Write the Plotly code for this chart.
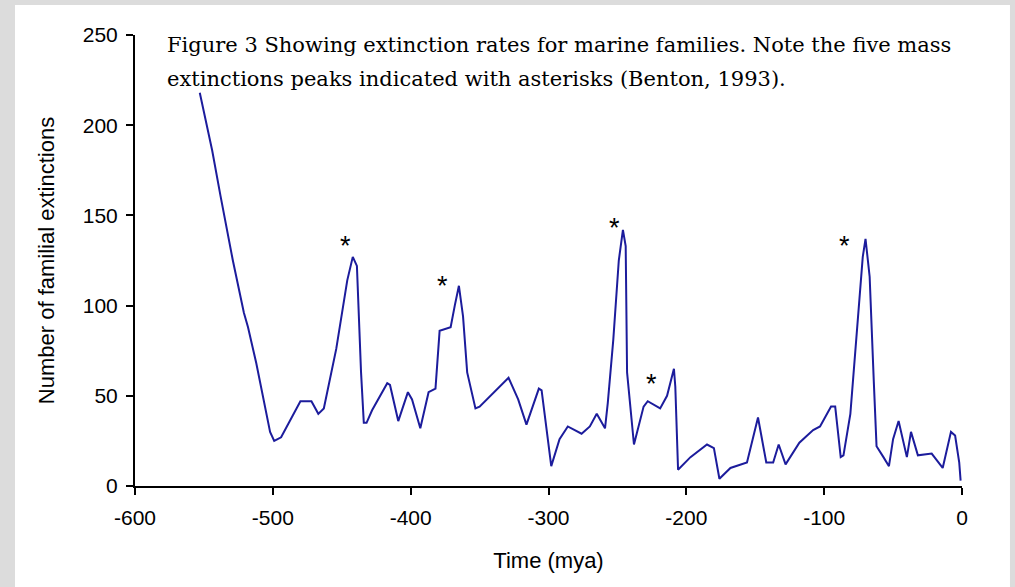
import plotly.graph_objects as go

# Data (time in mya, number of familial extinctions)
time_mya = [-553, -544, -538, -529, -521, -518, -512, -507, -502, -499, -494,
            -480, -472, -467, -463, -454, -446, -442, -439, -436, -434, -432,
            -428, -417, -415, -409, -402, -399, -393, -387, -382, -379, -371,
            -368, -365, -362, -359, -353, -350, -329, -322, -316, -307, -305,
            -298, -292, -286, -276, -270, -265, -259, -257, -253, -249, -246,
            -244, -243, -238, -231, -228, -219, -214, -209, -208, -206, -197,
            -185, -180, -176, -168, -156, -148, -142, -137, -133, -128, -118,
            -108, -103, -95, -92, -88, -86, -81, -76, -72, -70, -67, -64, -62,
            -57, -53, -50, -46, -40, -37, -32, -22, -14, -8, -5, -2, -1]
extinctions = [218, 186, 161, 125, 96, 88, 68, 48, 30, 25, 27,
               47, 47, 40, 43, 76, 114, 127, 122, 63, 35, 35,
               42, 57, 56, 36, 52, 48, 32, 52, 54, 86, 88,
               100, 111, 94, 63, 43, 44, 60, 48, 34, 54, 53,
               11, 26, 33, 29, 33, 40, 32, 46, 81, 125, 142,
               133, 63, 23, 44, 47, 43, 50, 65, 55, 9, 16,
               23, 21, 4, 10, 13, 38, 13, 13, 23, 12, 24,
               31, 33, 44, 44, 16, 17, 40, 88, 127, 137, 116, 58, 22,
               16, 11, 26, 36, 16, 30, 17, 18, 10, 30, 28, 13, 3]

# Mass-extinction asterisk markers
star_x = [-447, -377, -252, -225, -85]
star_y = [135, 113, 145, 59, 135]

x_ticks = [-600, -500, -400, -300, -200, -100, 0]
x_tick_text = ["-600", "-500", "-400", "-300", "-200", "-100", "0"]
y_ticks = [0, 50, 100, 150, 200, 250]

caption_lines = ["Figure 3 Showing extinction rates for marine families. Note the five mass",
                 "extinctions peaks indicated with asterisks (Benton, 1993)."]

fig = go.Figure()
fig.add_trace(go.Scatter(x=time_mya, y=extinctions, mode="lines",
                         line=dict(color="#1c1c9c", width=2), showlegend=False,
                         hoverinfo="skip"))

for sx, sy in zip(star_x, star_y):
    fig.add_annotation(x=sx, y=sy, text="*", showarrow=False,
                       font=dict(family="Liberation Sans", size=27, color="black"),
                       xanchor="center", yanchor="middle", yshift=-4)

serif = dict(family="DejaVu Serif", size=21, color="black")
fig.add_annotation(xref="paper", yref="paper", x=0.0363, y=(486 - 45) / 451,
                   xanchor="left", yanchor="middle", showarrow=False,
                   text=caption_lines[0], font=serif)
fig.add_annotation(xref="paper", yref="paper", x=0.0363, y=(486 - 79) / 451,
                   xanchor="left", yanchor="middle", showarrow=False,
                   text=caption_lines[1], font=serif)

# white panel inside grey frame
fig.add_shape(type="rect", xref="paper", yref="paper",
              x0=-0.1451, x1=1.0580, y0=-0.3, y1=1.0665,
              fillcolor="white", line=dict(width=0), layer="below")

tick_font = dict(family="Liberation Sans", size=21, color="black")
title_font = dict(family="Liberation Sans", size=22, color="black")
fig.update_xaxes(range=[-600, 0], tickvals=x_ticks, ticktext=x_tick_text,
                 ticks="outside", ticklen=7, ticklabelstandoff=5,
                 tickwidth=2, tickcolor="black", showline=True, linecolor="black",
                 linewidth=2, showgrid=False, zeroline=False, tickfont=tick_font,
                 title=dict(text="Time (mya)", font=title_font, standoff=24))
fig.update_yaxes(range=[0, 250], tickvals=y_ticks, ticks="outside", ticklen=7,
                 ticklabelstandoff=4,
                 tickwidth=2, tickcolor="black", showline=True, linecolor="black",
                 linewidth=2, showgrid=False, zeroline=False, tickfont=tick_font,
                 title=dict(text="Number of familial extinctions", font=title_font,
                            standoff=22))

fig.update_layout(width=1015, height=587,
                  margin=dict(l=135, r=53, t=35, b=101, autoexpand=False),
                  paper_bgcolor="#dcdcdc", plot_bgcolor="white")

fig.write_html("out.html", config={"displayModeBar": False},
               post_script="document.body.style.margin='0';"
                           "document.body.style.overflow='hidden';")
